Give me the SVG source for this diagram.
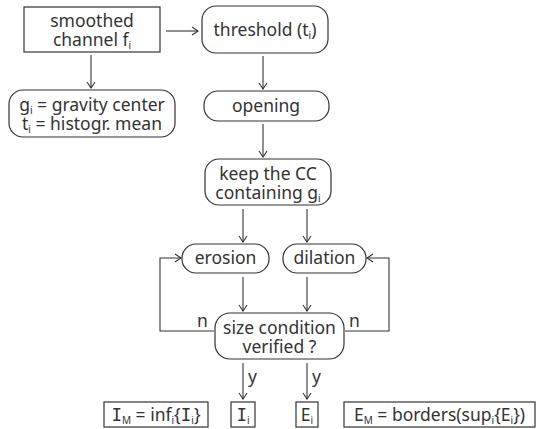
<svg xmlns="http://www.w3.org/2000/svg" width="537" height="429" viewBox="0 0 537 429">
<style>
.b{fill:#fff;stroke:#333;stroke-width:1.2}
.t{font-family:"Noto Sans","DejaVu Sans",sans-serif;font-size:17.5px;fill:#333;text-anchor:middle}
.s{font-size:10px}
.l{font-family:"Noto Sans","DejaVu Sans",sans-serif;font-size:17.5px;fill:#333}
.c{fill:none;stroke:#333;stroke-width:1.1}
.I{font-family:"DejaVu Sans Mono",monospace}
</style>
<defs>
<marker id="a" markerWidth="10" markerHeight="10" refX="9" refY="5" orient="auto" markerUnits="userSpaceOnUse">
<path d="M3,1 L9,5 L3,9" fill="none" stroke="#333" stroke-width="1.1"/>
</marker>
</defs>
<g id="connectors">
<line class="c" x1="166" y1="31" x2="198" y2="31" marker-end="url(#a)"/>
<line class="c" x1="91" y1="55" x2="91" y2="88" marker-end="url(#a)"/>
<line class="c" x1="263" y1="56" x2="263" y2="89" marker-end="url(#a)"/>
<line class="c" x1="263" y1="124" x2="263" y2="157" marker-end="url(#a)"/>
<line class="c" x1="243" y1="209" x2="243" y2="242" marker-end="url(#a)"/>
<line class="c" x1="307" y1="209" x2="307" y2="242" marker-end="url(#a)"/>
<line class="c" x1="243" y1="277" x2="243" y2="311" marker-end="url(#a)"/>
<line class="c" x1="307" y1="277" x2="307" y2="311" marker-end="url(#a)"/>
<polyline class="c" points="214,331 160,331 160,258 181,258" marker-end="url(#a)"/>
<polyline class="c" points="345,331 389,331 389,258 367,258" marker-end="url(#a)"/>
<line class="c" x1="243" y1="363" x2="243" y2="399" marker-end="url(#a)"/>
<line class="c" x1="307" y1="363" x2="307" y2="399" marker-end="url(#a)"/>
<text class="l" x="197" y="327">n</text>
<text class="l" x="349" y="327">n</text>
<text class="l" x="248" y="383">y</text>
<text class="l" x="312" y="383">y</text>
</g>
<g id="smoothed">
<rect class="b" x="24" y="7" width="136" height="45"/>
<text class="t" x="92" y="27">smoothed</text>
<text class="t" x="92" y="46">channel f<tspan class="s" dy="3">i</tspan></text>
</g>
<g id="threshold">
<rect class="b" x="202" y="6" width="126" height="47" rx="14"/>
<text class="t" x="265" y="36">threshold (t<tspan class="s" dy="3">i</tspan><tspan dy="-3">)</tspan></text>
</g>
<g id="gravity">
<rect class="b" x="9" y="90" width="166" height="47" rx="14"/>
<text class="t" x="92" y="111">g<tspan class="s" dy="3">i</tspan><tspan dy="-3"> = gravity center</tspan></text>
<text class="t" x="92" y="130">t<tspan class="s" dy="3">i</tspan><tspan dy="-3"> = histogr. mean</tspan></text>
</g>
<g id="opening">
<rect class="b" x="204" y="91" width="125" height="30" rx="14"/>
<text class="t" x="266" y="112">opening</text>
</g>
<g id="keep">
<rect class="b" x="205" y="159" width="126" height="46" rx="14"/>
<text class="t" x="268" y="180">keep the CC</text>
<text class="t" x="268" y="199">containing g<tspan class="s" dy="3">i</tspan></text>
</g>
<g id="erosion">
<rect class="b" x="182" y="244" width="87" height="29" rx="14"/>
<text class="t" x="225.5" y="264">erosion</text>
</g>
<g id="dilation">
<rect class="b" x="283" y="244" width="83" height="29" rx="14"/>
<text class="t" x="324.5" y="264">dilation</text>
</g>
<g id="size">
<rect class="b" x="215" y="313" width="129" height="46" rx="15"/>
<text class="t" x="279.5" y="334">size condition</text>
<text class="t" x="279.5" y="353">verified ?</text>
</g>
<g id="IM">
<rect class="b" x="104" y="402" width="104" height="25"/>
<text class="t" x="156" y="421"><tspan class="I">I</tspan><tspan class="s" dy="3">M</tspan><tspan dy="-3"> = inf</tspan><tspan class="s" dy="3">i</tspan><tspan dy="-3">{</tspan><tspan class="I">I</tspan><tspan class="s" dy="3">i</tspan><tspan dy="-3">}</tspan></text>
</g>
<g id="Ii">
<rect class="b" x="231" y="402" width="24" height="25"/>
<text class="t" x="243" y="421"><tspan class="I">I</tspan><tspan class="s" dy="3">i</tspan></text>
</g>
<g id="Ei">
<rect class="b" x="296" y="402" width="22" height="25"/>
<text class="t" x="307" y="421">E<tspan class="s" dy="3">i</tspan></text>
</g>
<g id="EM">
<rect class="b" x="344" y="402" width="191" height="25"/>
<text class="t" x="439.5" y="421">E<tspan class="s" dy="3">M</tspan><tspan dy="-3"> = borders(sup</tspan><tspan class="s" dy="3">i</tspan><tspan dy="-3">{E</tspan><tspan class="s" dy="3">i</tspan><tspan dy="-3">})</tspan></text>
</g>
</svg>
